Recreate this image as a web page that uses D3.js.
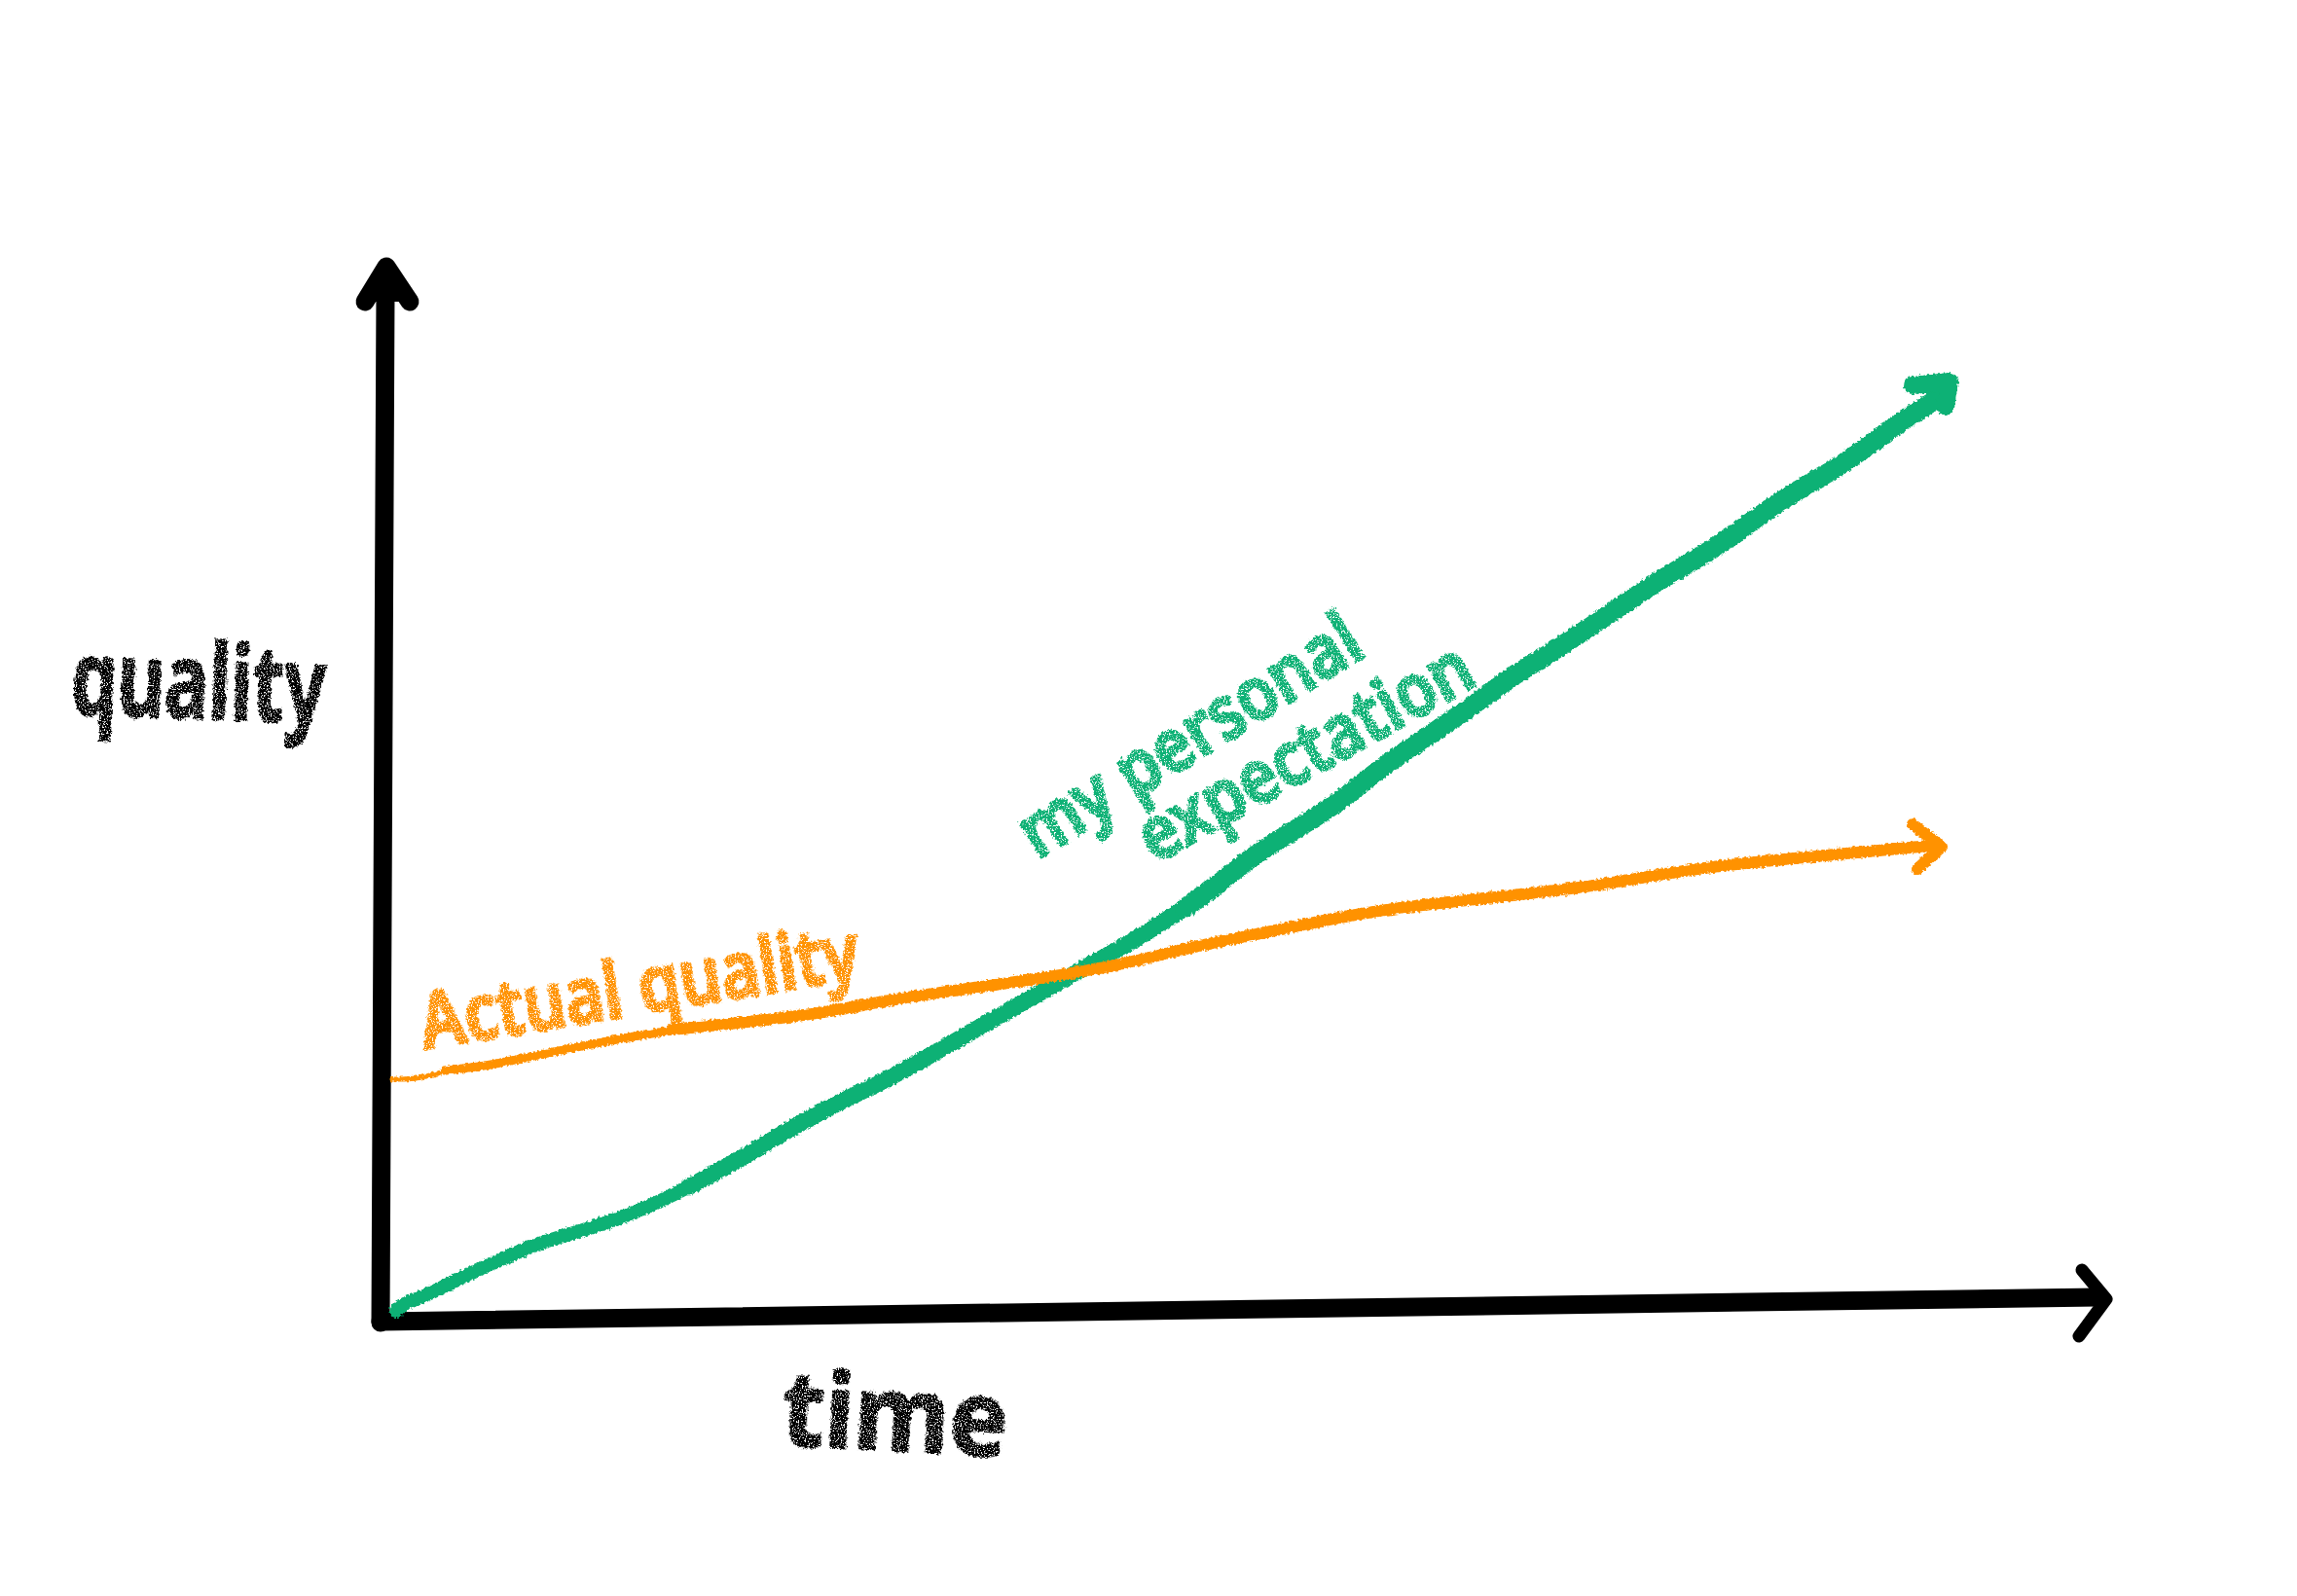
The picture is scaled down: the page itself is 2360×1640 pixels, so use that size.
<!DOCTYPE html>
<html><head><meta charset="utf-8">
<style>html,body{margin:0;padding:0;background:#fff}svg{display:block}</style>
<script src="https://cdn.jsdelivr.net/npm/d3@7"></script></head>
<body><svg id="c" width="2360" height="1640"></svg>
<script>
// Values; the sketch has no printed scale, so both axes use arbitrary units
const expectationTime    = [19, 25, 49, 85, 119, 162, 209, 269, 319, 369, 402, 462, 529, 579, 619, 669, 719, 772, 829, 859, 895, 935, 985, 1029, 1069, 1119, 1162, 1202, 1242, 1285, 1332, 1375, 1415, 1459, 1502, 1542, 1575, 1602];
const expectationQuality = [12, 19, 27, 46, 61, 81, 94, 114, 139, 166, 186, 221, 252, 281, 304, 332, 361, 389, 426, 446, 477, 502, 532, 569, 596, 629, 662, 686, 712, 742, 772, 796, 826, 856, 879, 909, 932, 949];
const actualTime    = [15, 42, 69, 115, 169, 235, 302, 402, 462, 512, 562, 629, 695, 762, 829, 862, 919, 985, 1052, 1119, 1185, 1252, 1309, 1375, 1442, 1509, 1575, 1605];
const actualQuality = [250, 250, 259, 264, 276, 289, 301, 311, 319, 329, 337, 346, 356, 367, 384, 391, 402, 416, 427, 434, 441, 449, 459, 469, 476, 482, 488, 491];
const xAxisTime = [3, 1767];
const xAxisQuality = [1, 26];
const yAxisTime = [3, 8];
const yAxisQuality = [0, 1059];
const expectationHead = [[1577, 963], [1615, 967], [1611, 941]];
const actualHead = [[1577, 512], [1607, 489], [1582, 466]];
const xAxisHead = [[1751, 54], [1776, 24], [1748, -14]];
const yAxisHead = [[-13, 1049], [9, 1085], [33, 1049]];
const labelY = "quality";
const labelX = "time";
const labelActual = "Actual quality";
const labelExpect1 = "my personal";
const labelExpect2 = "expectation";

const svg = d3.select("#c");
const x = d3.scaleLinear().domain([0, 1780]).range([388, 2168]);
const y = d3.scaleLinear().domain([0, 1089]).range([1359, 270]);
const line = d3.line().x(d => x(d[0])).y(d => y(d[1])).curve(d3.curveBasis);
const straight = d3.line().x(d => x(d[0])).y(d => y(d[1]));

const defs = svg.append("defs");
function crayon(id, freq, scale, holes) {
  const f = defs.append("filter").attr("id", id)
    .attr("filterUnits", "userSpaceOnUse")
    .attr("x", 0).attr("y", 0).attr("width", 2360).attr("height", 1640);
  f.append("feTurbulence").attr("type", "fractalNoise").attr("baseFrequency", freq)
    .attr("numOctaves", 2).attr("seed", 4).attr("result", "n");
  f.append("feDisplacementMap").attr("in", "SourceGraphic").attr("in2", "n")
    .attr("scale", scale).attr("xChannelSelector", "R").attr("yChannelSelector", "G").attr("result", "d");
  if (holes) {
    f.append("feTurbulence").attr("type", "fractalNoise").attr("baseFrequency", 0.7)
      .attr("numOctaves", 2).attr("seed", 9).attr("result", "g");
    f.append("feColorMatrix").attr("in", "g").attr("type", "matrix")
      .attr("values", "0 0 0 0 0  0 0 0 0 0  0 0 0 0 0  0 0 0 -9 " + holes).attr("result", "mask");
    f.append("feComposite").attr("in", "d").attr("in2", "mask").attr("operator", "in");
  }
}
crayon("rough", 0.35, 5, 0);
crayon("chalk", 0.3, 6, 6.0);

const GREEN = "#0fb174", ORANGE = "#ff9206", BLACK = "#000";
const zip = (a, b) => a.map((v, i) => [v, b[i]]);

// axes
const axes = svg.append("g").attr("fill", "none").attr("stroke", BLACK).attr("stroke-linecap", "round").attr("stroke-linejoin", "round");
axes.append("path").attr("d", straight(zip(yAxisTime, yAxisQuality))).attr("stroke-width", 19);
axes.append("path").attr("d", straight(zip(xAxisTime, xAxisQuality))).attr("stroke-width", 19);
axes.append("path").attr("d", straight(yAxisHead)).attr("stroke-width", 19).attr("fill", BLACK);
axes.append("path").attr("d", straight(xAxisHead)).attr("stroke-width", 13);

// expectation: widens along its length, as a crayon pressed harder
const expectation = zip(expectationTime, expectationQuality);
const gg = svg.append("g").attr("filter", "url(#rough)").attr("fill", "none").attr("stroke", GREEN)
  .attr("stroke-linecap", "round").attr("stroke-linejoin", "round");
gg.append("path").attr("d", line(expectation)).attr("stroke-width", 14);
gg.append("path").attr("d", line(expectation.slice(8))).attr("stroke-width", 17);
gg.append("path").attr("d", line(expectation.slice(18))).attr("stroke-width", 20);
gg.append("path").attr("d", straight(expectationHead)).attr("stroke-width", 18).attr("fill", GREEN);

// actual quality: the stroke tapers towards its start
const actual = zip(actualTime, actualQuality);
const og = svg.append("g").attr("filter", "url(#rough)").attr("fill", "none").attr("stroke", ORANGE)
  .attr("stroke-linecap", "round").attr("stroke-linejoin", "round");
og.append("path").attr("d", line(actual)).attr("stroke-width", 5);
og.append("path").attr("d", line(actual.slice(2))).attr("stroke-width", 9);
og.append("path").attr("d", line(actual.slice(6))).attr("stroke-width", 12);
og.append("path").attr("d", straight(actualHead)).attr("stroke-width", 12);

// hand-lettered labels; the filter sits on an untransformed group so its region covers the page
const lab = svg.append("g").attr("filter", "url(#chalk)");
function label(txt, px, py, rot, size, len, color, weight, sw) {
  lab.append("text").text(txt)
    .attr("transform", `translate(${px},${py}) rotate(${rot})`)
    .attr("font-family", "'Noto Sans', Lato, sans-serif")
    .attr("font-size", size).attr("font-weight", weight)
    .attr("fill", color).attr("stroke", color).attr("stroke-width", sw)
    .attr("textLength", len).attr("lengthAdjust", "spacingAndGlyphs");
}
label(labelY, 72, 734, 2, 108, 262, BLACK, 700, 2);
label(labelX, 802, 1485, 3, 108, 232, BLACK, 700, 2);
label(labelActual, 436, 1078, -9.3, 80, 456, ORANGE, 600, 3);
label(labelExpect1, 1066, 884, -32, 76, 400, GREEN, 600, 3);
label(labelExpect2, 1186, 888, -29, 76, 382, GREEN, 600, 3);
</script></body></html>
